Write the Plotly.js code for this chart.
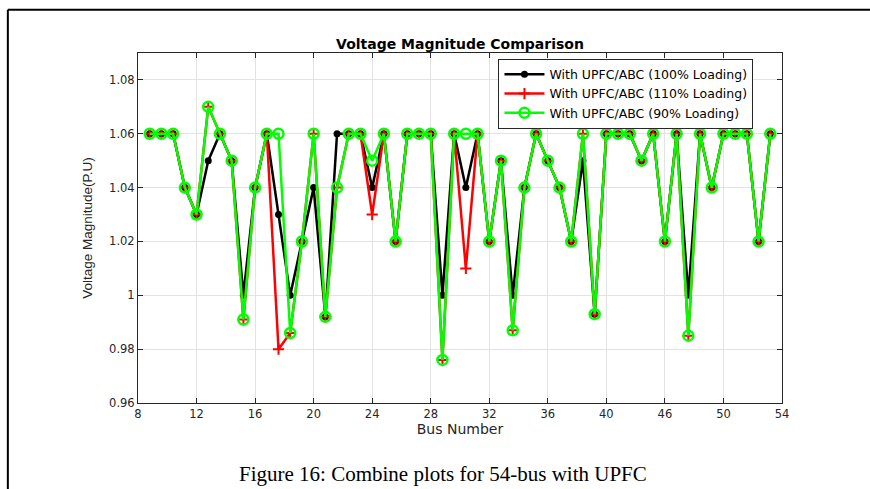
<!DOCTYPE html>
<html>
<head>
<meta charset="utf-8">
<script src="https://cdn.plot.ly/plotly-3.0.1.min.js"></script>
<style>html,body{margin:0;padding:0;background:#fff;}#chart{width:870px;height:489px;}</style>
</head>
<body>
<div id="chart"></div>
<script>
// Bus positions (1..54) and axis tick labels as printed on the figure
const busIndex = [1,2,3,4,5,6,7,8,9,10,11,12,13,14,15,16,17,18,19,20,21,22,23,24,25,26,27,28,29,30,31,32,33,34,35,36,37,38,39,40,41,42,43,44,45,46,47,48,49,50,51,52,53,54];
const tickPos = [0,5,10,15,20,25,30,35,40,45,50,55];
const tickLabels = ["8","12","16","20","24","28","32","36","40","46","50","54"];
const yTickVals = [0.96,0.98,1,1.02,1.04,1.06,1.08];
const yTickText = ["0.96","0.98","1","1.02","1.04","1.06","1.08"];

// 100% loading
const v100 = [1.06,1.06,1.06,1.04,1.03,1.05,1.06,1.05,1.00,1.04,1.06,1.03,1.00,1.02,1.04,0.992,1.06,1.06,1.06,1.04,1.06,1.02,1.06,1.06,1.06,1.00,1.06,1.04,1.06,1.02,1.05,1.00,1.04,1.06,1.05,1.04,1.02,1.05,0.993,1.06,1.06,1.06,1.05,1.06,1.02,1.06,1.00,1.06,1.04,1.06,1.06,1.06,1.02,1.06];
// 110% loading
const v110 = [1.06,1.06,1.06,1.04,1.03,1.07,1.06,1.05,0.991,1.04,1.06,0.98,0.986,1.02,1.06,0.992,1.04,1.06,1.06,1.03,1.06,1.02,1.06,1.06,1.06,0.976,1.06,1.01,1.06,1.02,1.05,0.987,1.04,1.06,1.05,1.04,1.02,1.06,0.993,1.06,1.06,1.06,1.05,1.06,1.02,1.06,0.985,1.06,1.04,1.06,1.06,1.06,1.02,1.06];
// 90% loading
const v90 = [1.06,1.06,1.06,1.04,1.03,1.07,1.06,1.05,0.991,1.04,1.06,1.06,0.986,1.02,1.06,0.992,1.04,1.06,1.06,1.05,1.06,1.02,1.06,1.06,1.06,0.976,1.06,1.06,1.06,1.02,1.05,0.987,1.04,1.06,1.05,1.04,1.02,1.06,0.993,1.06,1.06,1.06,1.05,1.06,1.02,1.06,0.985,1.06,1.04,1.06,1.06,1.06,1.02,1.06];

const traces = [
  {x: busIndex, y: v100, type: 'scatter', mode: 'lines+markers', name: 'With UPFC/ABC (100% Loading)',
   line: {color: '#000000', width: 2.5}, marker: {symbol: 'circle', size: 7, color: '#000000'}},
  {x: busIndex, y: v110, type: 'scatter', mode: 'lines+markers', name: 'With UPFC/ABC (110% Loading)',
   line: {color: '#ff0000', width: 2.5}, marker: {symbol: 'cross-thin', size: 8, line: {color: '#ff0000', width: 2}}},
  {x: busIndex, y: v90, type: 'scatter', mode: 'lines+markers', name: 'With UPFC/ABC (90% Loading)',
   line: {color: '#00ff00', width: 2.5}, marker: {symbol: 'circle-open', size: 10, line: {color: '#00ff00', width: 2.5}}}
];

const axisCol = '#262626';
const sans = '"DejaVu Sans", "Liberation Sans", Arial, sans-serif';
const layout = {
  width: 870, height: 489,
  margin: {l: 138.3, r: 88.3, t: 53.3, b: 85.7, pad: 0},
  paper_bgcolor: '#ffffff', plot_bgcolor: '#ffffff',
  showlegend: true,
  font: {family: sans, size: 12, color: axisCol},
  title: {text: '<b>Voltage Magnitude Comparison</b>', x: 0.5, xref: 'paper', y: 1, yref: 'paper', yanchor: 'bottom', pad: {b: 4},
          font: {family: sans, size: 14, color: '#000000'}},
  xaxis: {
    range: [0, 55], tickvals: tickPos, ticktext: tickLabels,
    showgrid: true, gridcolor: '#e3e3e3', gridwidth: 1, zeroline: false,
    showline: true, linecolor: axisCol, linewidth: 1, mirror: 'ticks',
    ticks: 'inside', ticklen: 5, tickcolor: axisCol, tickwidth: 1,
    tickfont: {size: 11.5, color: axisCol},
    title: {text: 'Bus Number', standoff: 4, font: {size: 14, color: axisCol}}
  },
  yaxis: {
    range: [0.96, 1.09], tickvals: yTickVals, ticktext: yTickText,
    showgrid: true, gridcolor: '#e3e3e3', gridwidth: 1, zeroline: false,
    showline: true, linecolor: axisCol, linewidth: 1, mirror: 'ticks',
    ticks: 'inside', ticklen: 5, tickcolor: axisCol, tickwidth: 1,
    tickfont: {size: 11.5, color: axisCol},
    title: {text: 'Voltage Magnitude(P.U)', standoff: 13, font: {family: '"Liberation Sans Narrow", "Arial Narrow", "Liberation Sans", sans-serif', size: 13.5, color: axisCol}}
  },
  legend: {
    x: 0.9557, xanchor: 'right', y: 0.9837, yanchor: 'top',
    bgcolor: '#ffffff', bordercolor: axisCol, borderwidth: 1,
    font: {size: 12.5, color: '#000000'}, itemwidth: 40, tracegroupgap: 0
  },
  shapes: [
    {type: 'line', xref: 'paper', yref: 'paper', x0: -0.2021, x1: 1.3, y0: 1.1237, y1: 1.1237, line: {color: '#000000', width: 2}},
    {type: 'line', xref: 'paper', yref: 'paper', x0: -0.2021, x1: -0.2021, y0: 1.1237, y1: -0.3, line: {color: '#000000', width: 2}}
  ],
  annotations: [
    {text: 'Figure 16: Combine plots for 54-bus with UPFC', xref: 'paper', yref: 'paper',
     x: (443 - 138.3) / 643.4, y: (403.3 - 474) / 350, xanchor: 'center', yanchor: 'middle', showarrow: false,
     font: {family: '"Liberation Serif", "Times New Roman", serif', size: 21, color: '#000000'}}
  ]
};

Plotly.newPlot('chart', traces, layout, {displayModeBar: false, staticPlot: true});
</script>
</body>
</html>
